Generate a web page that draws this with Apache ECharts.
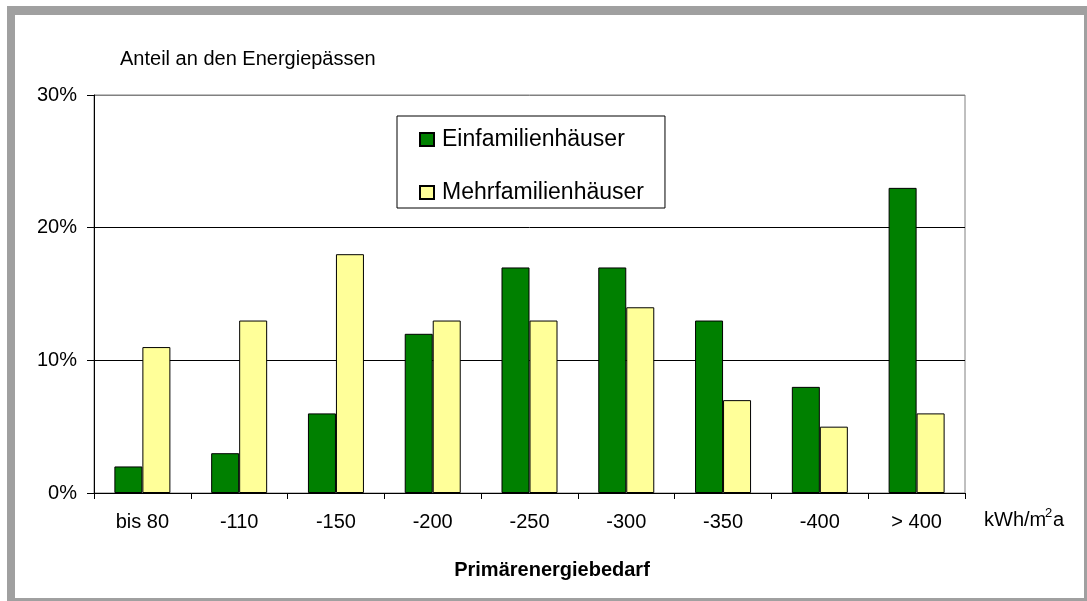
<!DOCTYPE html>
<html>
<head>
    <meta charset="utf-8">
    <title>Anteil an den Energiepässen</title>
    <script src="https://cdn.jsdelivr.net/npm/echarts@6/dist/echarts.min.js"></script>
    <style>
        html, body { margin: 0; padding: 0; background: #fff; }
        #chart1 { width: 1087px; height: 601px; }
    </style>
</head>
<body>
<div id="chart1"></div>
<script>
    // Daten (Anteil in %)
    var categories = ['bis 80', '-110', '-150', '-200', '-250', '-300', '-350', '-400', '> 400'];
    var einfamilien = [2, 3, 6, 12, 17, 17, 13, 8, 23];
    var mehrfamilien = [11, 13, 18, 13, 13, 14, 7, 5, 6];
    var yTicks = [0, 10, 20, 30];

    var font = 'Arial, "Liberation Sans", sans-serif';
    var myChart1 = echarts.init(document.getElementById('chart1'));

    myChart1.setOption({
        animation: false,
        backgroundColor: '#fff',
        textStyle: { fontFamily: font, color: '#000' },
        title: {
            text: 'Anteil an den Energiepässen',
            left: 120,
            top: 49,
            padding: 0,
            textStyle: { fontFamily: font, fontSize: 20, fontWeight: 'normal', color: '#000' }
        },
        graphic: [
            // grauer Rahmen
            { type: 'rect', z: -10, silent: true, shape: { x: 7, y: 6, width: 1080, height: 595 }, style: { fill: '#a0a0a0' } },
            { type: 'rect', z: -9, silent: true, shape: { x: 15, y: 15, width: 1069, height: 583 }, style: { fill: '#fff' } },
            // Einheit mit hochgestellter 2
            {
                type: 'text', x: 984, y: 520, silent: true,
                style: {
                    text: 'kWh/m', fontFamily: font, fontSize: 20, fill: '#000', verticalAlign: 'middle'
                }
            },
            {
                type: 'text', x: 1045, y: 513, silent: true,
                style: {
                    text: '2', fontFamily: font, fontSize: 13, fill: '#000', verticalAlign: 'middle'
                }
            },
            {
                type: 'text', x: 1053, y: 520, silent: true,
                style: {
                    text: 'a', fontFamily: font, fontSize: 20, fill: '#000', verticalAlign: 'middle'
                }
            },
            {
                type: 'text', x: 552, y: 570, silent: true,
                style: {
                    text: 'Primärenergiebedarf',
                    fontFamily: font, fontSize: 20, fontWeight: 'bold', fill: '#000',
                    align: 'center', verticalAlign: 'middle'
                }
            }
        ],
        legend: {
            orient: 'vertical',
            left: 397,
            top: 116,
            padding: [12, 21, 4, 22],
            itemGap: 30,
            itemWidth: 14,
            itemHeight: 13,
            icon: 'rect',
            backgroundColor: '#fff',
            borderColor: '#000',
            borderWidth: 1,
            borderRadius: 0,
            textStyle: { fontFamily: font, fontSize: 23, color: '#000', padding: [0, 0, 0, 3] },
            data: ['Einfamilienhäuser', 'Mehrfamilienhäuser']
        },
        grid: {
            left: 94,
            right: 122,
            top: 95,
            bottom: 108,
            show: true,
            borderColor: '#808080',
            borderWidth: 1,
            backgroundColor: 'transparent'
        },
        xAxis: {
            type: 'category',
            data: categories,
            axisLine: { lineStyle: { color: '#000', width: 1 } },
            axisTick: { show: true, length: 6, lineStyle: { color: '#000' } },
            axisLabel: { fontFamily: font, fontSize: 20, color: '#000', margin: 19 }
        },
        yAxis: {
            type: 'value',
            min: yTicks[0],
            max: yTicks[yTicks.length - 1],
            interval: 10,
            axisLine: { show: true, lineStyle: { color: '#000', width: 1 } },
            axisTick: { show: true, length: 7, lineStyle: { color: '#000' } },
            axisLabel: { fontFamily: font, fontSize: 20, color: '#000', margin: 17, formatter: '{value}%' },
            splitLine: { show: true, lineStyle: { color: ['#000', '#000', '#000', '#808080'], width: 1 } }
        },
        series: [
            {
                name: 'Einfamilienhäuser',
                type: 'bar',
                data: einfamilien,
                barWidth: 28,
                barGap: '0%',
                itemStyle: { color: '#008000', borderColor: '#000', borderWidth: 1 }
            },
            {
                name: 'Mehrfamilienhäuser',
                type: 'bar',
                data: mehrfamilien,
                barWidth: 28,
                barGap: '0%',
                itemStyle: { color: '#ffff99', borderColor: '#000', borderWidth: 1 }
            }
        ]
    });
</script>
</body>
</html>
